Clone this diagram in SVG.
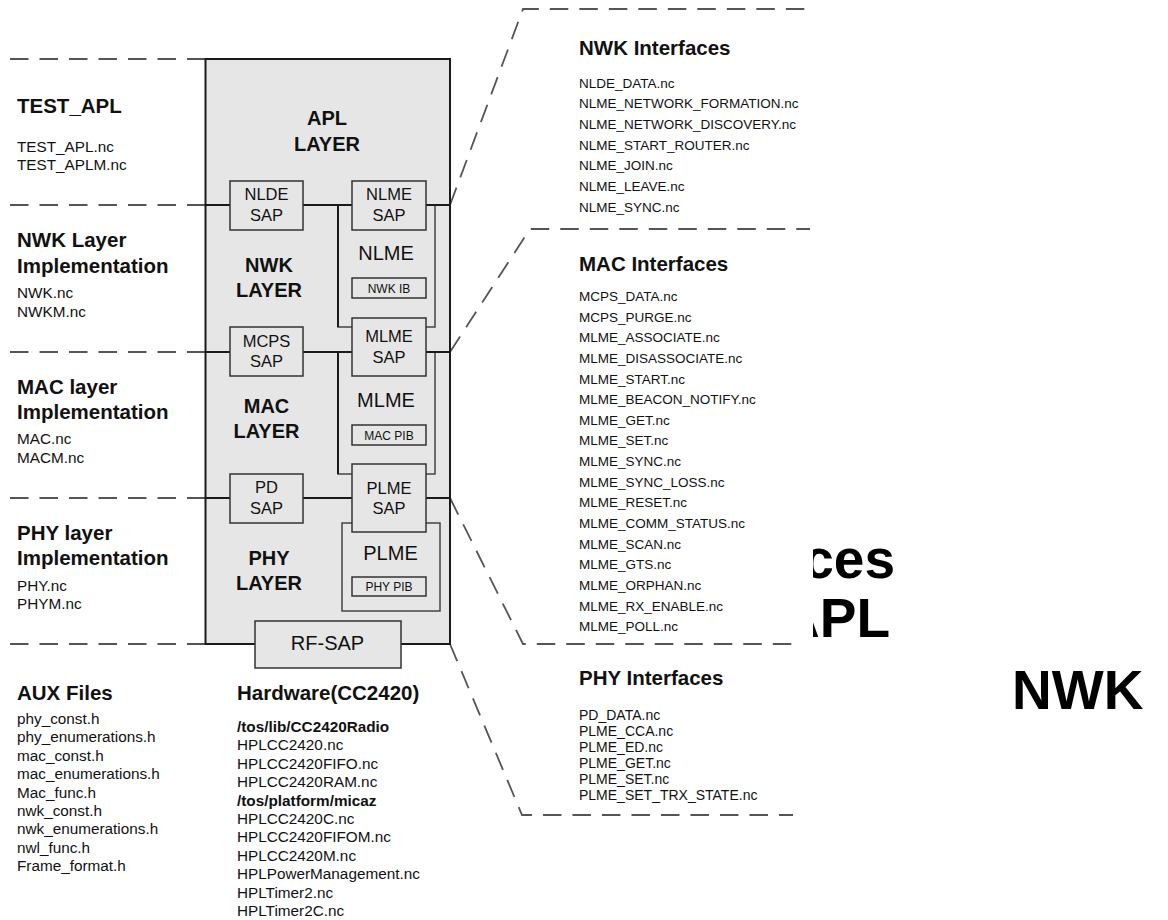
<svg xmlns="http://www.w3.org/2000/svg" width="1168" height="920" viewBox="0 0 1168 920">
<style>
text{font-family:"Liberation Sans",Arial,sans-serif;fill:#111}
.h{font-size:20.5px;font-weight:bold}
.f{font-size:15.3px}
.fb{font-size:15.3px;font-weight:bold}
.r{font-size:13.5px}
.p{font-size:14px}
.lay{font-size:20px;font-weight:bold;text-anchor:middle}
.sap{font-size:16.5px;text-anchor:middle}
.big{font-size:20px;text-anchor:middle}
.ib{font-size:12px;text-anchor:middle}
.huge{font-size:55px;font-weight:bold;fill:#000}
.dash{fill:none;stroke:#555;stroke-width:1.8;stroke-dasharray:18.5 11}
.box{fill:#e6e6e6;stroke:#333;stroke-width:1.5}
.inner{fill:#e6e6e6;stroke:#444;stroke-width:1.5}
.main{fill:#e6e6e6;stroke:#1a1a1a;stroke-width:2}
.bus{stroke:#1a1a1a;stroke-width:2;fill:none}
</style>
<defs>
<clipPath id="cl"><rect x="813" y="500" width="200" height="160"/></clipPath>
</defs>
<rect width="1168" height="920" fill="#fff"/>

<g id="connectors">
<line class="dash" x1="10" y1="59" x2="205" y2="59"/>
<line class="dash" x1="10" y1="205" x2="205" y2="205"/>
<line class="dash" x1="10" y1="352" x2="205" y2="352"/>
<line class="dash" x1="10" y1="498" x2="205" y2="498"/>
<line class="dash" x1="10" y1="644" x2="205" y2="644"/>
<polyline class="dash" points="450,205 523,9 810,9"/>
<polyline class="dash" points="450,352 530,229 810,229"/>
<polyline class="dash" points="450,498 523,644 793,644"/>
<polyline class="dash" points="450,644 522,815 793,815"/>
</g>

<g id="stack">
<rect class="main" x="205.5" y="59" width="244.5" height="585"/>
</g>
<g id="nlme-box"><rect class="inner" x="338" y="205" width="97" height="122"/>
<text class="big" x="386" y="260">NLME</text>
<rect class="box" x="352" y="278" width="74" height="20"/>
<text class="ib" x="389" y="293">NWK IB</text></g>
<g id="mlme-box"><rect class="inner" x="338" y="352" width="97" height="122"/>
<text class="big" x="386" y="407">MLME</text>
<rect class="box" x="352" y="425" width="74" height="20"/>
<text class="ib" x="389" y="439.5">MAC PIB</text></g>
<g id="plme-box"><rect class="inner" x="342" y="523" width="98" height="88"/>
<text class="big" x="390.5" y="560">PLME</text>
<rect class="box" x="352" y="577" width="74" height="19"/>
<text class="ib" x="389" y="591">PHY PIB</text></g>

<g id="buses">
<line class="bus" x1="205" y1="205" x2="450" y2="205"/>
<line class="bus" x1="205" y1="352" x2="450" y2="352"/>
<line class="bus" x1="205" y1="498" x2="450" y2="498"/>
<line class="bus" x1="338" y1="205" x2="338" y2="327"/>
<line class="bus" x1="338" y1="352" x2="338" y2="474"/>
</g>

<g id="layers">
<text class="lay" x="327" y="125">APL</text><text class="lay" x="327" y="150.5">LAYER</text>
<text class="lay" x="269" y="271.5">NWK</text><text class="lay" x="269" y="296.5">LAYER</text>
<text class="lay" x="266.5" y="413">MAC</text><text class="lay" x="266.5" y="438">LAYER</text>
<text class="lay" x="269" y="565">PHY</text><text class="lay" x="269" y="589.5">LAYER</text>
</g>

<g id="nlde-sap"><rect class="box" x="230" y="181" width="73" height="49"/><text class="sap" x="266.5" y="200">NLDE</text><text class="sap" x="266.5" y="221">SAP</text></g>
<g id="nlme-sap"><rect class="box" x="352" y="181" width="74" height="49"/><text class="sap" x="389" y="200">NLME</text><text class="sap" x="389" y="221">SAP</text></g>
<g id="mcps-sap"><rect class="box" x="230" y="327" width="73" height="49"/><text class="sap" x="266.5" y="346.5">MCPS</text><text class="sap" x="266.5" y="367">SAP</text></g>
<g id="mlme-sap"><rect class="box" x="352" y="318" width="74" height="58"/><text class="sap" x="389" y="342">MLME</text><text class="sap" x="389" y="362.5">SAP</text></g>
<g id="pd-sap"><rect class="box" x="230" y="474" width="73" height="49"/><text class="sap" x="266.5" y="493">PD</text><text class="sap" x="266.5" y="513.5">SAP</text></g>
<g id="plme-sap"><rect class="box" x="352" y="464" width="74" height="68"/><text class="sap" x="389" y="493.5">PLME</text><text class="sap" x="389" y="513.5">SAP</text></g>
<g id="rf-sap"><rect class="box" x="255" y="621" width="146" height="47"/><text class="big" x="327.5" y="650">RF-SAP</text></g>

<g id="left-text">
<text class="h" x="17" y="113">TEST_APL</text>
<text class="f" x="17" y="152">TEST_APL.nc</text>
<text class="f" x="17" y="170">TEST_APLM.nc</text>
<text class="h" x="17" y="247">NWK Layer</text>
<text class="h" x="17" y="273">Implementation</text>
<text class="f" x="17" y="298">NWK.nc</text>
<text class="f" x="17" y="317">NWKM.nc</text>
<text class="h" x="17" y="394">MAC layer</text>
<text class="h" x="17" y="419">Implementation</text>
<text class="f" x="17" y="444">MAC.nc</text>
<text class="f" x="17" y="463">MACM.nc</text>
<text class="h" x="17" y="540">PHY layer</text>
<text class="h" x="17" y="565">Implementation</text>
<text class="f" x="17" y="591">PHY.nc</text>
<text class="f" x="17" y="609">PHYM.nc</text>
</g>

<g id="aux">
<text class="h" x="17" y="700">AUX Files</text>
<text class="f" x="17" y="724">phy_const.h</text>
<text class="f" x="17" y="742.4">phy_enumerations.h</text>
<text class="f" x="17" y="760.8">mac_const.h</text>
<text class="f" x="17" y="779.2">mac_enumerations.h</text>
<text class="f" x="17" y="797.6">Mac_func.h</text>
<text class="f" x="17" y="816">nwk_const.h</text>
<text class="f" x="17" y="834.4">nwk_enumerations.h</text>
<text class="f" x="17" y="852.8">nwl_func.h</text>
<text class="f" x="17" y="871.2">Frame_format.h</text>
</g>

<g id="hardware">
<text class="h" x="237" y="700">Hardware(CC2420)</text>
<text class="fb" x="237" y="732">/tos/lib/CC2420Radio</text>
<text class="f" x="237" y="750.4">HPLCC2420.nc</text>
<text class="f" x="237" y="768.8">HPLCC2420FIFO.nc</text>
<text class="f" x="237" y="787.2">HPLCC2420RAM.nc</text>
<text class="fb" x="237" y="805.6">/tos/platform/micaz</text>
<text class="f" x="237" y="824">HPLCC2420C.nc</text>
<text class="f" x="237" y="842.4">HPLCC2420FIFOM.nc</text>
<text class="f" x="237" y="860.8">HPLCC2420M.nc</text>
<text class="f" x="237" y="879.2">HPLPowerManagement.nc</text>
<text class="f" x="237" y="897.6">HPLTimer2.nc</text>
<text class="f" x="237" y="916">HPLTimer2C.nc</text>
</g>

<g id="nwk-if">
<text class="h" x="579" y="55">NWK Interfaces</text>
<text class="r" x="579" y="87.5">NLDE_DATA.nc</text>
<text class="r" x="579" y="108.2">NLME_NETWORK_FORMATION.nc</text>
<text class="r" x="579" y="128.8">NLME_NETWORK_DISCOVERY.nc</text>
<text class="r" x="579" y="149.5">NLME_START_ROUTER.nc</text>
<text class="r" x="579" y="170.2">NLME_JOIN.nc</text>
<text class="r" x="579" y="190.8">NLME_LEAVE.nc</text>
<text class="r" x="579" y="211.5">NLME_SYNC.nc</text>
</g>

<g id="mac-if">
<text class="h" x="579" y="271">MAC Interfaces</text>
<text class="r" x="579" y="301">MCPS_DATA.nc</text>
<text class="r" x="579" y="321.6">MCPS_PURGE.nc</text>
<text class="r" x="579" y="342.3">MLME_ASSOCIATE.nc</text>
<text class="r" x="579" y="362.9">MLME_DISASSOCIATE.nc</text>
<text class="r" x="579" y="383.5">MLME_START.nc</text>
<text class="r" x="579" y="404.2">MLME_BEACON_NOTIFY.nc</text>
<text class="r" x="579" y="424.8">MLME_GET.nc</text>
<text class="r" x="579" y="445.4">MLME_SET.nc</text>
<text class="r" x="579" y="466">MLME_SYNC.nc</text>
<text class="r" x="579" y="486.7">MLME_SYNC_LOSS.nc</text>
<text class="r" x="579" y="507.3">MLME_RESET.nc</text>
<text class="r" x="579" y="527.9">MLME_COMM_STATUS.nc</text>
<text class="r" x="579" y="548.6">MLME_SCAN.nc</text>
<text class="r" x="579" y="569.2">MLME_GTS.nc</text>
<text class="r" x="579" y="589.8">MLME_ORPHAN.nc</text>
<text class="r" x="579" y="610.5">MLME_RX_ENABLE.nc</text>
<text class="r" x="579" y="631">MLME_POLL.nc</text>
</g>

<g id="phy-if">
<text class="h" x="579" y="685">PHY Interfaces</text>
<text class="p" x="579" y="720">PD_DATA.nc</text>
<text class="p" x="579" y="736">PLME_CCA.nc</text>
<text class="p" x="579" y="752">PLME_ED.nc</text>
<text class="p" x="579" y="768">PLME_GET.nc</text>
<text class="p" x="579" y="784">PLME_SET.nc</text>
<text class="p" x="579" y="800">PLME_SET_TRX_STATE.nc</text>
</g>

<g id="fragments">
<g clip-path="url(#cl)">
<text class="huge" x="895" y="578" text-anchor="end">ces</text>
<text class="huge" x="890" y="637" text-anchor="end">APL</text>
</g>
<text class="huge" x="1012" y="709">NWK</text>
</g>
</svg>
